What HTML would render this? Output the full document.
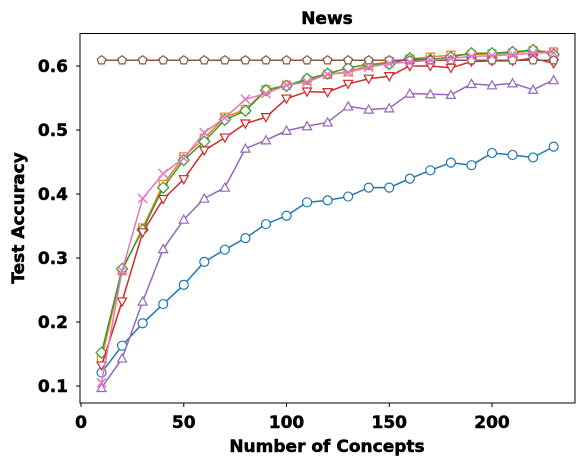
<!DOCTYPE html>
<html><head><meta charset="utf-8"><style>
body{margin:0;background:#fff}
svg text{font-family:"DejaVu Sans","Liberation Sans",sans-serif;font-weight:bold;stroke:#000;stroke-width:0.5px}
</style></head><body>
<svg id="chart" width="584" height="466" viewBox="0 0 584 466" xmlns="http://www.w3.org/2000/svg">
<rect width="584" height="466" fill="#fff"/>
<g id="grid"></g>
<g id="series"></g>
<rect x="80" y="33.5" width="495" height="369.5" fill="none" stroke="#000" stroke-width="1"/>
<text x="327" y="24" font-size="17" font-weight="bold" text-anchor="middle">News</text>
<text x="327" y="452" font-size="17" font-weight="bold" text-anchor="middle">Number of Concepts</text>
<text transform="translate(24,218) rotate(-90)" font-size="17" font-weight="bold" text-anchor="middle">Test Accuracy</text>
</svg>
<script>
const xs=[10,20,30,40,50,60,70,80,90,100,110,120,130,140,150,160,170,180,190,200,210,220,230];
const xTicks=[0,50,100,150,200];
const yTicks=[0.1,0.2,0.3,0.4,0.5,0.6];
const blueCircle=[0.121,0.163,0.198,0.228,0.258,0.294,0.313,0.331,0.353,0.366,0.387,0.390,0.396,0.410,0.410,0.424,0.437,0.449,0.445,0.464,0.461,0.457,0.474];
const orangeSquare=[0.142,0.280,0.347,0.415,0.458,0.487,0.520,0.532,0.563,0.570,0.578,0.587,0.591,0.601,0.607,0.611,0.614,0.617,0.618,0.619,0.620,0.624,0.622];
const greenDiamond=[0.152,0.283,0.344,0.410,0.453,0.482,0.516,0.530,0.562,0.569,0.580,0.588,0.597,0.603,0.603,0.612,0.610,0.614,0.620,0.620,0.622,0.625,0.618];
const redTriDown=[0.132,0.232,0.340,0.392,0.423,0.468,0.488,0.510,0.520,0.549,0.560,0.559,0.572,0.580,0.584,0.600,0.600,0.597,0.607,0.608,0.608,0.612,0.604];
const purpleTriUp=[0.097,0.143,0.232,0.314,0.360,0.393,0.410,0.471,0.484,0.499,0.506,0.512,0.537,0.532,0.534,0.557,0.556,0.555,0.572,0.570,0.573,0.563,0.578];
const brownPentagon=[0.609,0.609,0.609,0.609,0.609,0.609,0.609,0.609,0.609,0.609,0.609,0.609,0.609,0.609,0.609,0.609,0.609,0.609,0.609,0.609,0.609,0.609,0.609];
const pinkX=[0.105,0.280,0.393,0.432,0.456,0.496,0.519,0.548,0.557,0.570,0.575,0.587,0.590,0.598,0.604,0.606,0.609,0.612,0.615,0.616,0.618,0.620,0.621];

const NS="http://www.w3.org/2000/svg";
function X(v){return 81+v*2.055;}
function Y(v){return 386-(v-0.1)*640;}
function mk(t,a){const e=document.createElementNS(NS,t);for(const k in a)e.setAttribute(k,a[k]);return e;}
const grid=document.getElementById('grid');
xTicks.forEach(t=>{
  const l=mk('line',{x1:X(t),x2:X(t),y1:403,y2:407,stroke:'#000'});
  
  
  grid.appendChild(l);
  const tx=mk('text',{x:X(t),y:428,'font-size':17,'font-weight':'bold','text-anchor':'middle'});
  
  
  tx.textContent=t;grid.appendChild(tx);
});
yTicks.forEach(t=>{
  const l=mk('line',{x1:76,x2:80,y1:Y(t),y2:Y(t),stroke:'#000'});
  
  
  grid.appendChild(l);
  const tx=mk('text',{x:68,y:Y(t)+6,'font-size':17,'font-weight':'bold','text-anchor':'end'});
  
  
  tx.textContent=t.toFixed(1);grid.appendChild(tx);
});
const ser=document.getElementById('series');
function marker(shape,x,y,c){
  const r=4.5;let e;
  if(shape==='o')e=mk('circle',{cx:x,cy:y,r:r,fill:'#fff',stroke:c,'stroke-width':1.2});
  else if(shape==='s')e=mk('rect',{x:x-r+0.5,y:y-r+0.5,width:2*r-1,height:2*r-1,fill:'#fff',stroke:c,'stroke-width':1.2});
  else if(shape==='D')e=mk('polygon',{points:`${x},${y-5.5} ${x+5.5},${y} ${x},${y+5.5} ${x-5.5},${y}`,fill:'#fff',stroke:c,'stroke-width':1.2});
  else if(shape==='v')e=mk('polygon',{points:`${x-r},${y-r*0.8} ${x+r},${y-r*0.8} ${x},${y+r}`,fill:'#fff',stroke:c,'stroke-width':1.2});
  else if(shape==='^')e=mk('polygon',{points:`${x-r},${y+r*0.8} ${x+r},${y+r*0.8} ${x},${y-r}`,fill:'#fff',stroke:c,'stroke-width':1.2});
  else if(shape==='p'){let p=[];for(let i=0;i<5;i++){const a=-Math.PI/2+i*2*Math.PI/5;p.push((x+r*Math.cos(a)).toFixed(2)+','+(y+r*Math.sin(a)).toFixed(2));}e=mk('polygon',{points:p.join(' '),fill:'#fff',stroke:c,'stroke-width':1.2});}
  else e=mk('path',{d:`M${x-r} ${y-r}L${x+r} ${y+r}M${x-r} ${y+r}L${x+r} ${y-r}`,stroke:c,'stroke-width':1.5,fill:'none'});
  return e;
}
function draw(name,vals,c,shape){
  const g=mk('g',{});
  
  
  const pl=mk('polyline',{points:xs.map((v,i)=>X(v)+','+Y(vals[i])).join(' '),fill:'none',stroke:c,'stroke-width':1.5});
  
  
  g.appendChild(pl);
  xs.forEach((v,i)=>{const m=marker(shape,X(v),Y(vals[i]),c);
    
    
    g.appendChild(m);});
  ser.appendChild(g);
}
draw('blue-series',blueCircle,'#1f77b4','o');
draw('orange-series',orangeSquare,'#ff7f0e','s');
draw('green-series',greenDiamond,'#2ca02c','D');
draw('red-series',redTriDown,'#d62728','v');
draw('purple-series',purpleTriUp,'#9467bd','^');
draw('brown-series',brownPentagon,'#8c564b','p');
draw('pink-series',pinkX,'#e377c2','x');
</script>
</body></html>
